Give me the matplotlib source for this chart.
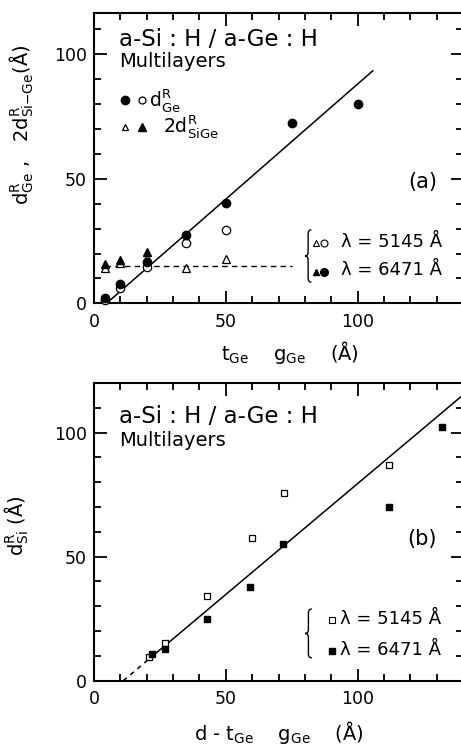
import matplotlib
matplotlib.use("Agg")
import matplotlib.pyplot as plt
from matplotlib.ticker import MultipleLocator
from matplotlib.path import Path
from matplotlib.patches import PathPatch
import numpy as np

plt.rcParams["font.family"] = ["DejaVu Sans"]
plt.rcParams["mathtext.default"] = "regular"

W, H = 461, 749
DPI = 100

# ---- panel (a): Ge-layer repeat lengths vs Ge thickness ----
t_ge_6471 = [4.3, 10, 20, 35, 50, 75, 100]
d_ge_6471 = [2.0, 7.7, 16.7, 27.4, 40.2, 72.3, 80.0]
t_ge_5145 = [4.3, 10, 20, 35, 50]
d_ge_5145 = [1.5, 6.2, 14.7, 24.1, 29.4]
t_sige_5145 = [4.3, 10, 20, 35, 50]
d_sige_5145 = [14.0, 16.2, 18.0, 14.0, 17.7]
t_sige_6471 = [4.3, 10, 20, 35]
d_sige_6471 = [15.7, 17.4, 20.7, 26.0]

# linear fit for d_Ge and constant level for 2d_SiGe
fit_a_slope, fit_a_x0, fit_a_range = 0.925, 4.75, (5.4, 105.7)
level_sige, level_range = 15.0, (4.3, 75)

# ---- panel (b): Si-layer repeat length vs (d - t_Ge) ----
dsi_x_5145 = [21.0, 26.9, 43.0, 59.8, 72.0, 112.0]
dsi_y_5145 = [9.4, 15.1, 34.2, 57.4, 75.5, 87.0]
dsi_x_6471 = [21.9, 26.9, 43.0, 59.2, 71.8, 112.0, 132.0]
dsi_y_6471 = [10.6, 12.7, 24.9, 37.9, 55.1, 70.2, 102.4]

fit_b_slope, fit_b_x0 = 0.894, 11.1
fit_b_dashed, fit_b_solid = (11.1, 22.0), (22.0, 142.0)

x_ticks = [0, 50, 100]
y_ticks = [0, 50, 100]

fig = plt.figure(figsize=(W / DPI, H / DPI), dpi=DPI)


def axes_px(left, top, right, bottom):
    return fig.add_axes([left / W, 1 - bottom / H, (right - left) / W, (bottom - top) / H])


def style(ax, ymax):
    ax.set_xlim(0, 140)
    ax.set_ylim(0, ymax)
    ax.xaxis.set_major_locator(MultipleLocator(50))
    ax.xaxis.set_minor_locator(MultipleLocator(10))
    ax.yaxis.set_major_locator(MultipleLocator(50))
    ax.yaxis.set_minor_locator(MultipleLocator(10))
    ax.set_xticks(x_ticks)
    ax.set_yticks(y_ticks)
    ax.tick_params(which="both", direction="in", top=True, right=True, width=1.3,
                   labelsize=12.5, pad=5)
    ax.tick_params(which="major", length=9)
    ax.tick_params(which="minor", length=5)
    ax.tick_params(axis="x", pad=7)
    for s in ax.spines.values():
        s.set_linewidth(1.5)


def brace(ax, x0, x1, y0, y1):
    xm = (x0 + x1) / 2
    ym = (y0 + y1) / 2
    h = (y1 - y0)
    c = h * 0.08
    verts = [(x1, y1), (xm, y1), (xm, y1 - c),
             (xm, ym + c),
             (xm, ym), (x0, ym),
             (xm, ym), (xm, ym - c),
             (xm, y0 + c),
             (xm, y0), (x1, y0)]
    codes = [Path.MOVETO, Path.CURVE3, Path.CURVE3,
             Path.LINETO,
             Path.CURVE3, Path.CURVE3,
             Path.CURVE3, Path.CURVE3,
             Path.LINETO,
             Path.CURVE3, Path.CURVE3]
    ax.add_patch(PathPatch(Path(verts, codes), fill=False, lw=1.0, color="black",
                           clip_on=False))


mk = dict(color="black", linestyle="none", clip_on=False, zorder=3)

# ================= panel (a) =================
ax1 = axes_px(94, 13, 463.2, 303.3)
style(ax1, 116.6)

xs = np.array(fit_a_range)
ax1.plot(xs, fit_a_slope * (xs - fit_a_x0), color="black", lw=1.1)
ax1.plot(level_range, [level_sige, level_sige], color="black", lw=1.0,
         linestyle=(0, (4, 3)))

ax1.plot(t_sige_5145, d_sige_5145, marker="^", ms=5.5, mfc="white", mec="black", mew=0.9, **mk)
ax1.plot(t_sige_6471, d_sige_6471, marker="^", ms=5.5, mfc="black", mec="black", **mk)
ax1.plot(t_ge_5145, d_ge_5145, marker="o", ms=6, mfc="white", mec="black", mew=0.9, **mk)
ax1.plot(t_ge_6471, d_ge_6471, marker="o", ms=6, mfc="black", mec="black", **mk)

ax1.text(9.5, 103.3, "a-Si : H / a-Ge : H ", fontsize=16.5, va="baseline", ha="left")
ax1.text(9.5, 94.9, "Multilayers", fontsize=14, va="baseline", ha="left")

ax1.plot([11.8], [81.6], marker="o", ms=6, mfc="black", mec="black", **mk)
ax1.plot([18.1], [81.6], marker="o", ms=5, mfc="white", mec="black", mew=0.9, **mk)
ax1.text(20.9, 81.6, r"$d^{R}_{Ge}$", fontsize=13.5, va="center", ha="left")
ax1.plot([11.8], [70.9], marker="^", ms=5, mfc="white", mec="black", mew=0.9, **mk)
ax1.plot([18.1], [70.9], marker="^", ms=5.5, mfc="black", mec="black", **mk)
ax1.text(26.2, 70.9, r"$2d^{R}_{SiGe}$", fontsize=13.5, va="center", ha="left")

ax1.text(130, 46.4, "(a)", fontsize=15, va="baseline", ha="right")

brace(ax1, 80.0, 82.4, 8.5, 29.5)
ax1.plot([84.2], [24.2], marker="^", ms=4.5, mfc="white", mec="black", mew=0.8, **mk)
ax1.plot([87.4], [24.2], marker="o", ms=5, mfc="white", mec="black", mew=0.8, **mk)
ax1.plot([84.2], [12.7], marker="^", ms=4.5, mfc="black", mec="black", **mk)
ax1.plot([87.4], [12.7], marker="o", ms=5.5, mfc="black", mec="black", **mk)
ax1.text(93.5, 22.7, "λ = 5145 Å", fontsize=13, va="baseline", ha="left")
ax1.text(93.5, 11.4, "λ = 6471 Å", fontsize=13, va="baseline", ha="left")

fig.text(290 / W, 1 - 352 / H, r"$t_{Ge}$    $g_{Ge}$    (Å)", fontsize=14,
         ha="center", va="center")
fig.text(22 / W, 1 - 125 / H, r"$d^{R}_{Ge}$ ,   $2d^{R}_{Si{-}Ge}$(Å)", fontsize=14,
         rotation=90, ha="center", va="center")

# ================= panel (b) =================
ax2 = axes_px(94, 383, 463.2, 680.7)
style(ax2, 120)

xd = np.array(fit_b_dashed)
ax2.plot(xd, fit_b_slope * (xd - fit_b_x0), color="black", lw=1.1, linestyle=(0, (3, 3)))
xsb = np.array(fit_b_solid)
ax2.plot(xsb, fit_b_slope * (xsb - fit_b_x0), color="black", lw=1.1)

ax2.plot(dsi_x_5145, dsi_y_5145, marker="s", ms=5, mfc="white", mec="black", mew=0.9, **mk)
ax2.plot(dsi_x_6471, dsi_y_6471, marker="s", ms=5, mfc="black", mec="black", **mk)

ax2.text(9.5, 103.9, "a-Si : H / a-Ge : H ", fontsize=16.5, va="baseline", ha="left")
ax2.text(9.5, 94.6, "Multilayers", fontsize=14, va="baseline", ha="left")
ax2.text(130, 54.7, "(b)", fontsize=15, va="baseline", ha="right")

brace(ax2, 80.0, 82.6, 9.2, 28.9)
ax2.plot([90.1], [24.5], marker="s", ms=4.5, mfc="white", mec="black", mew=0.8, **mk)
ax2.plot([90.1], [12.1], marker="s", ms=5, mfc="black", mec="black", **mk)
ax2.text(93.3, 22.9, "λ = 5145 Å", fontsize=13, va="baseline", ha="left")
ax2.text(93.3, 10.5, "λ = 6471 Å", fontsize=13, va="baseline", ha="left")

fig.text(279 / W, 1 - 732 / H, r"d - $t_{Ge}$    $g_{Ge}$    (Å)", fontsize=14,
         ha="center", va="center")
fig.text(17 / W, 1 - 526 / H, r"$d^{R}_{Si}$ (Å)", fontsize=14,
         rotation=90, ha="center", va="center")

fig.savefig("out.png", dpi=DPI)
